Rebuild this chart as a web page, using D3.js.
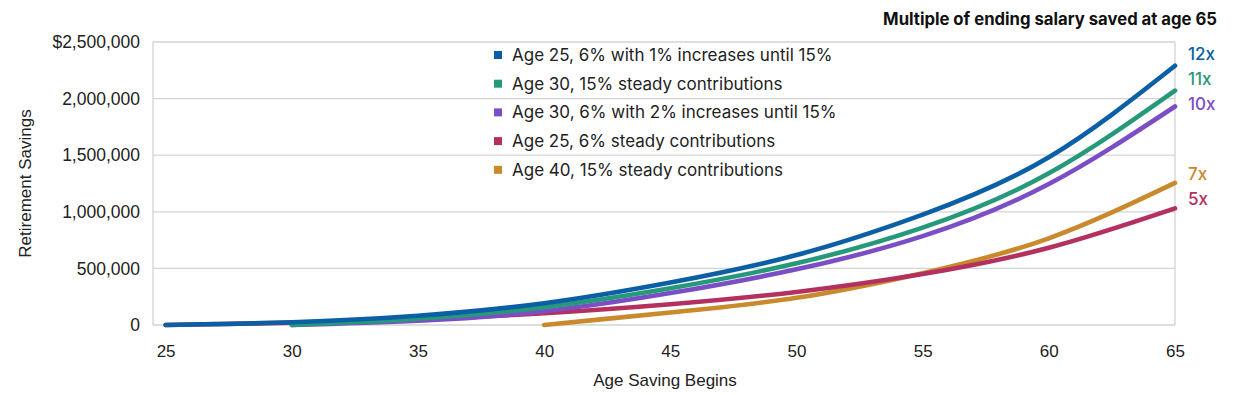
<!DOCTYPE html>
<html>
<head>
<meta charset="utf-8">
<script src="https://cdn.jsdelivr.net/npm/d3@7"></script>
<style>
  body { margin: 0; background: #fff; }
  svg { display: block; }
</style>
</head>
<body>
<div id="chart"></div>
<script>
// ages on the x axis (5-year steps)
var ages = [25, 30, 35, 40, 45, 50, 55, 60, 65];

var seriesNames = [
  'Age 25, 6% with 1% increases until 15%',
  'Age 30, 15% steady contributions',
  'Age 30, 6% with 2% increases until 15%',
  'Age 25, 6% steady contributions',
  'Age 40, 15% steady contributions'
];
var seriesColors = ['#0b5fa5', '#27997b', '#7b4ec6', '#b3305f', '#c98a2d'];
var multiples = ['12x', '11x', '10x', '5x', '7x'];

// savings per age, null before saving begins
var age25Increase = [0, 24000, 82000, 192000, 375000, 618000, 975000, 1482000, 2290000];
var age30Steady   = [null, 0, 55000, 158000, 325000, 545000, 860000, 1340000, 2070000];
var age30Increase = [null, 0, 38000, 122000, 282000, 492000, 785000, 1245000, 1930000];
var age25Steady   = [0, 20000, 52000, 104000, 183000, 292000, 450000, 682000, 1030000];
var age40Steady   = [null, null, null, 0, 110000, 240000, 458000, 766000, 1255000];

var allSeries = [age25Increase, age30Steady, age30Increase, age25Steady, age40Steady];

var yTicks = [0, 500000, 1000000, 1500000, 2000000, 2500000];
var xTicks = [25, 30, 35, 40, 45, 50, 55, 60, 65];

var width = 1247, height = 395;
var plotLeft = 153, plotRight = 1175, plotTop = 42, plotBottom = 325;

var svg = d3.select('#chart').append('svg')
  .attr('width', width)
  .attr('height', height);

var x = d3.scaleLinear().domain([24.5, 65]).range([plotLeft, plotRight]);
var y = d3.scaleLinear().domain([0, 2500000]).range([plotBottom, plotTop]);

var axisFont = '"Liberation Sans", Arial, sans-serif';
var textFont = 'Inter, Roboto, sans-serif';

// gridlines
svg.append('g')
  .selectAll('line')
  .data(yTicks)
  .join('line')
  .attr('x1', plotLeft)
  .attr('x2', plotRight)
  .attr('y1', function (d) { return y(d); })
  .attr('y2', function (d) { return y(d); })
  .attr('stroke', '#d3d3d3')
  .attr('stroke-width', 1.3);

// frame sides
[plotLeft, plotRight].forEach(function (px) {
  svg.append('line')
    .attr('x1', px).attr('x2', px)
    .attr('y1', plotTop).attr('y2', plotBottom)
    .attr('stroke', '#d3d3d3')
    .attr('stroke-width', 1.3);
});

// y axis
var yAxis = d3.axisLeft(y)
  .tickValues(yTicks)
  .tickSize(0)
  .tickPadding(13)
  .tickFormat(function (d) {
    return d === 2500000 ? '$' + d3.format(',')(d) : d3.format(',')(d);
  });

svg.append('g')
  .attr('transform', 'translate(' + plotLeft + ',0)')
  .call(yAxis)
  .call(function (g) { g.select('.domain').remove(); })
  .selectAll('text')
  .attr('font-family', axisFont)
  .attr('font-size', '17.5px')
  .attr('fill', '#222');

// x axis
var xAxis = d3.axisBottom(x)
  .tickValues(xTicks)
  .tickSize(0)
  .tickPadding(20);

svg.append('g')
  .attr('transform', 'translate(0,' + plotBottom + ')')
  .call(xAxis)
  .call(function (g) { g.select('.domain').remove(); })
  .selectAll('text')
  .attr('font-family', axisFont)
  .attr('font-size', '17px')
  .attr('fill', '#222');

// axis titles
svg.append('text')
  .attr('transform', 'translate(31,' + ((plotTop + plotBottom) / 2) + ') rotate(-90)')
  .attr('text-anchor', 'middle')
  .attr('font-family', axisFont)
  .attr('font-size', '17px')
  .attr('fill', '#222')
  .text('Retirement Savings');

svg.append('text')
  .attr('x', 665)
  .attr('y', 386)
  .attr('text-anchor', 'middle')
  .attr('font-family', axisFont)
  .attr('font-size', '17px')
  .attr('fill', '#222')
  .text('Age Saving Begins');

// lines (draw back to front so blue sits on top)
var line = d3.line()
  .defined(function (d) { return d.v !== null; })
  .x(function (d) { return x(d.age); })
  .y(function (d) { return y(d.v); })
  .curve(d3.curveNatural);

var drawOrder = [4, 3, 2, 1, 0];
drawOrder.forEach(function (i) {
  var pts = ages.map(function (a, j) { return { age: a, v: allSeries[i][j] }; });
  svg.append('path')
    .datum(pts)
    .attr('d', line)
    .attr('fill', 'none')
    .attr('stroke', seriesColors[i])
    .attr('stroke-width', 4.6)
    .attr('stroke-linecap', 'round');
});

// legend
var legend = svg.append('g').attr('transform', 'translate(494,55)');
seriesNames.forEach(function (name, i) {
  var row = legend.append('g').attr('transform', 'translate(0,' + (i * 28.7) + ')');
  row.append('rect')
    .attr('x', 0).attr('y', -4)
    .attr('width', 8).attr('height', 8)
    .attr('fill', seriesColors[i]);
  row.append('text')
    .attr('x', 18)
    .attr('dy', '0.35em')
    .attr('font-family', textFont)
    .attr('font-size', '17px')
    .attr('fill', '#222')
    .text(name);
});

// title
svg.append('text')
  .attr('x', 1217)
  .attr('y', 25)
  .attr('text-anchor', 'end')
  .attr('font-family', textFont)
  .attr('font-weight', 'bold')
  .attr('font-size', '16.7px')
  .attr('fill', '#111')
  .text('Multiple of ending salary saved at age 65');

// end labels, nudged apart so they don't collide
var labels = allSeries.map(function (s, i) {
  return { text: multiples[i], color: seriesColors[i], y: y(s[s.length - 1]) - 9 };
});
var sorted = labels.slice().sort(function (a, b) { return a.y - b.y; });
for (var it = 0; it < 50; it++) {
  for (var k = 1; k < sorted.length; k++) {
    var gap = sorted[k].y - sorted[k - 1].y;
    if (gap < 25) {
      var push = (25 - gap) / 2;
      sorted[k].y += push;
      sorted[k - 1].y -= push;
    }
  }
}

svg.append('g')
  .selectAll('text')
  .data(labels)
  .join('text')
  .attr('x', 1188)
  .attr('y', function (d) { return d.y; })
  .attr('dy', '0.35em')
  .attr('font-family', textFont)
  .attr('font-weight', 500)
  .attr('font-size', '17px')
  .attr('fill', function (d) { return d.color; })
  .text(function (d) { return d.text; });
</script>
</body>
</html>
